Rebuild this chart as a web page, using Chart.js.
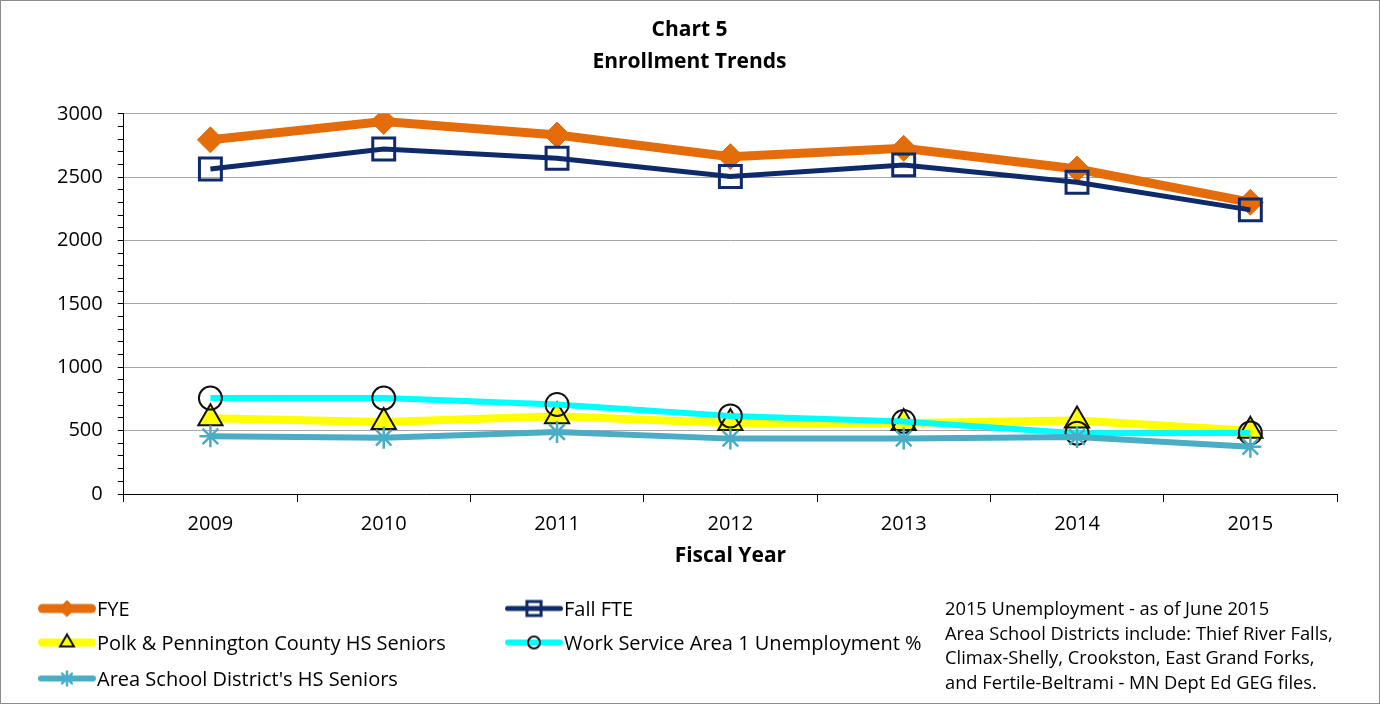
<!DOCTYPE html>
<html>
<head>
<meta charset="utf-8">
<title>Chart 5 - Enrollment Trends</title>
<script src="https://cdn.jsdelivr.net/npm/chart.js@4/dist/chart.umd.min.js"></script>
<style>
  html, body { margin: 0; padding: 0; background: #fff; }
  #wrap { position: relative; width: 1380px; height: 704px; overflow: hidden;
          font-family: "Open Sans", sans-serif; color: #000; }
  #frame { position: absolute; left: 0; top: 0; right: 0; bottom: 0;
           border: 1px solid #8c8c8c; pointer-events: none; }
  .item { position: absolute; display: flex; align-items: center;
          transform: translateY(-50%); font-size: 20px; white-space: nowrap; }
  .item canvas { margin-right: 1px; }
  #note { position: absolute; left: 945px; top: 596px; font-size: 18.3px; line-height: 24.5px; }
</style>
</head>
<body>
<div id="wrap">
  <canvas id="chart" width="1380" height="704"></canvas>
  <div id="legend"></div>
  <div id="note">2015 Unemployment - as of June 2015<br>Area School Districts include: Thief River Falls,<br>Climax-Shelly, Crookston, East Grand Forks,<br>and Fertile-Beltrami - MN Dept Ed GEG files.</div>
  <div id="frame"></div>
</div>
<script>
const years = ['2009', '2010', '2011', '2012', '2013', '2014', '2015'];

const fye = [2795, 2940, 2833, 2662, 2728, 2565, 2302];
const fallFte = [2565, 2723, 2649, 2505, 2597, 2460, 2242];
const polkSeniors = [598, 569, 614, 561, 560, 580, 500];
const wsaUnemployment = [757, 757, 706, 616, 572, 480, 482];
const areaSeniors = [455, 444, 489, 437, 438, 450, 372];

const seriesNames = [
    'FYE',
    'Fall FTE',
    'Polk & Pennington County HS Seniors',
    'Work Service Area 1 Unemployment %',
    "Area School District's HS Seniors"
];

const font = '"Open Sans", sans-serif';

// styles per series (chart marker / legend marker)
const styles = [
    { data: fye, color: '#E46C0A', width: 9, point: 'rectRot', radius: 13, lr: 8,
      bg: '#E46C0A', border: '#E46C0A', bw: 1, order: 5 },
    { data: fallFte, color: '#0E2A6B', width: 5, point: 'rect', radius: 15.5, lr: 10,
      bg: 'rgba(0,0,0,0)', border: '#0E2A6B', bw: 3, order: 4 },
    { data: polkSeniors, color: '#FFFF00', width: 8, point: 'triangle', radius: 14, lr: 8,
      bg: '#FFFF00', border: '#111', bw: 2, order: 3 },
    { data: wsaUnemployment, color: '#00FFFF', width: 6, point: 'circle', radius: 11.5, lr: 6,
      bg: 'rgba(0,0,0,0)', border: '#111', bw: 2, order: 2 },
    { data: areaSeniors, color: '#4BACC6', width: 6, point: 'star', radius: 11, lr: 7,
      bg: '#4BACC6', border: '#4BACC6', bw: 2.5, order: 1 }
];

const datasets = styles.map((s, i) => ({
    label: seriesNames[i],
    data: s.data,
    borderColor: s.color,
    borderWidth: s.width,
    backgroundColor: s.bg,
    tension: 0,
    pointStyle: s.point,
    pointRadius: s.radius,
    pointHoverRadius: s.radius,
    pointBackgroundColor: s.bg,
    pointBorderColor: s.border,
    pointBorderWidth: s.bw,
    order: s.order
}));

const chart = new Chart(document.getElementById('chart'), {
    type: 'line',
    data: { labels: years, datasets },
    options: {
        responsive: false,
        animation: false,
        events: [],
        layout: { padding: { left: 42, right: 43, top: 0, bottom: 137 } },
        plugins: {
            legend: { display: false },
            tooltip: { enabled: false },
            title: {
                display: true,
                text: ['Chart 5', 'Enrollment Trends'],
                color: '#000',
                font: { family: font, size: 21, weight: 'bold', lineHeight: 1.52 },
                padding: { top: 14, bottom: 36 }
            }
        },
        scales: {
            x: {
                offset: true,
                grid: { offset: true, drawOnChartArea: false, tickLength: 8, color: '#000' },
                border: { color: '#000' },
                ticks: { color: '#000', font: { family: font, size: 20, lineHeight: 1 }, padding: 12 },
                title: {
                    display: true,
                    text: 'Fiscal Year',
                    color: '#000',
                    font: { family: font, size: 21, weight: 'bold', lineHeight: 1 },
                    padding: { top: 0, bottom: 0 }
                }
            },
            y: {
                min: 0,
                max: 3000,
                ticks: {
                    stepSize: 100,
                    autoSkip: false,
                    color: '#000',
                    font: { family: font, size: 20 },
                    padding: 15,
                    callback: v => v % 500 === 0 ? v : ''
                },
                grid: {
                    color: c => c.tick && c.tick.value % 500 === 0 ? '#a6a6a6' : 'rgba(0,0,0,0)',
                    tickColor: '#000',
                    tickLength: 6
                },
                border: { color: '#000' }
            }
        }
    }
});

// html legend, two columns
const legendPos = [[38, 608], [505, 608], [38, 642], [505, 642], [38, 678]];
const legendBox = document.getElementById('legend');

styles.forEach((s, i) => {
    const item = document.createElement('div');
    item.className = 'item';
    item.style.left = legendPos[i][0] + 'px';
    item.style.top = legendPos[i][1] + 'px';

    const c = document.createElement('canvas');
    c.width = 58;
    c.height = 24;
    const g = c.getContext('2d');
    g.strokeStyle = s.color;
    g.lineWidth = s.width;
    g.lineCap = 'round';
    g.beginPath();
    g.moveTo(s.width / 2, 12);
    g.lineTo(58 - s.width / 2, 12);
    g.stroke();
    g.fillStyle = s.bg;
    g.strokeStyle = s.border;
    g.lineWidth = s.bw;
    Chart.helpers.drawPoint(g, { pointStyle: s.point, radius: s.lr, borderWidth: s.bw, rotation: 0 }, 29, 12);

    const t = document.createElement('span');
    t.textContent = seriesNames[i];
    item.appendChild(c);
    item.appendChild(t);
    legendBox.appendChild(item);
});
</script>
</body>
</html>
